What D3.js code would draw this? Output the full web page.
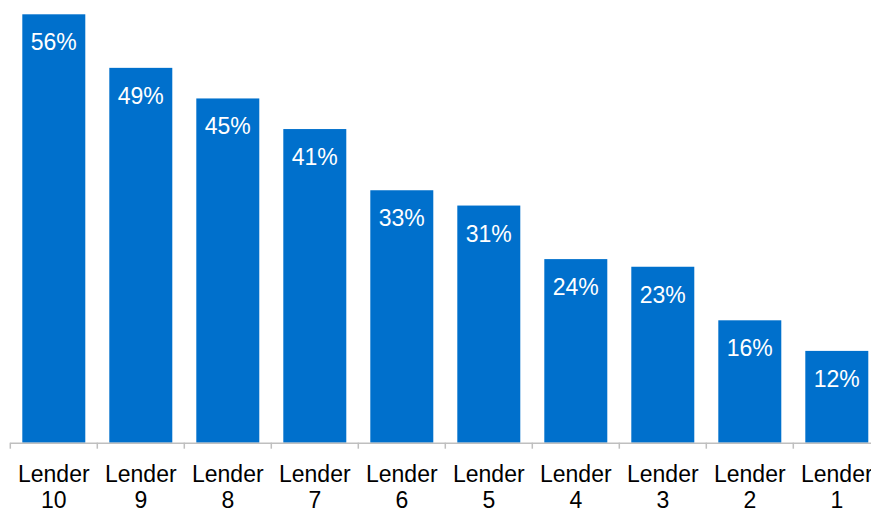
<!DOCTYPE html>
<html>
<head>
<meta charset="utf-8">
<script src="https://cdn.jsdelivr.net/npm/d3@7/dist/d3.min.js"></script>
<style>
  html, body { margin: 0; padding: 0; background: #fff; }
  svg { display: block; font-family: Arial, "Liberation Sans", sans-serif; }
</style>
</head>
<body>
<svg id="chart" width="871" height="508"></svg>
<script>
// Share by lender, largest first
const lenders = ["Lender 10", "Lender 9", "Lender 8", "Lender 7", "Lender 6",
                 "Lender 5", "Lender 4", "Lender 3", "Lender 2", "Lender 1"];
const shares = [56, 49, 45, 41, 33, 31, 24, 23, 16, 12];

const svg = d3.select("#chart");
const baseline = 442.7;

const x = d3.scaleBand()
  .domain(lenders)
  .range([10.3, 880.3])
  .paddingInner(0.276)
  .paddingOuter(0.138);

const y = d3.scaleLinear()
  .domain([0, 56])
  .range([baseline, 14.3]);

const data = lenders.map((l, i) => ({ lender: l, value: shares[i] }));

// Bars
svg.append("g").selectAll("rect")
  .data(data)
  .join("rect")
  .attr("x", d => x(d.lender))
  .attr("y", d => y(d.value))
  .attr("width", x.bandwidth())
  .attr("height", d => y(0) - y(d.value))
  .attr("fill", "#0070CC");

// Value labels inside the top of each bar
svg.append("g").selectAll("text")
  .data(data)
  .join("text")
  .attr("x", d => x(d.lender) + x.bandwidth() / 2)
  .attr("y", d => y(d.value) + 36)
  .attr("text-anchor", "middle")
  .attr("fill", "#fff")
  .attr("font-size", 23)
  .text(d => d.value + "%");

// Category axis: baseline with ticks between categories
const step = x.step();
const axis = svg.append("g");
axis.append("line")
  .attr("x1", x.range()[0]).attr("x2", x.range()[1])
  .attr("y1", baseline + 0.5).attr("y2", baseline + 0.5)
  .attr("stroke", "#BFBFBF").attr("stroke-width", 1.5);
const boundaries = lenders.map(l => x(l) - step * x.paddingInner() / 2)
  .concat([x.range()[1]]);
axis.selectAll("line.tick")
  .data(boundaries)
  .join("line")
  .attr("class", "tick")
  .attr("x1", d => d).attr("x2", d => d)
  .attr("y1", baseline).attr("y2", baseline + 6)
  .attr("stroke", "#BFBFBF").attr("stroke-width", 1.5);

// Two-line category labels
const labels = axis.selectAll("text")
  .data(lenders)
  .join("text")
  .attr("x", d => x(d) + x.bandwidth() / 2)
  .attr("y", 481.5)
  .attr("text-anchor", "middle")
  .attr("fill", "#000")
  .attr("font-size", 23);
labels.each(function(d) {
  const parts = d.split(" ");
  const t = d3.select(this);
  t.append("tspan").attr("x", x(d) + x.bandwidth() / 2).text(parts[0]);
  t.append("tspan").attr("x", x(d) + x.bandwidth() / 2).attr("dy", 26.5).text(parts[1]);
});
</script>
</body>
</html>
